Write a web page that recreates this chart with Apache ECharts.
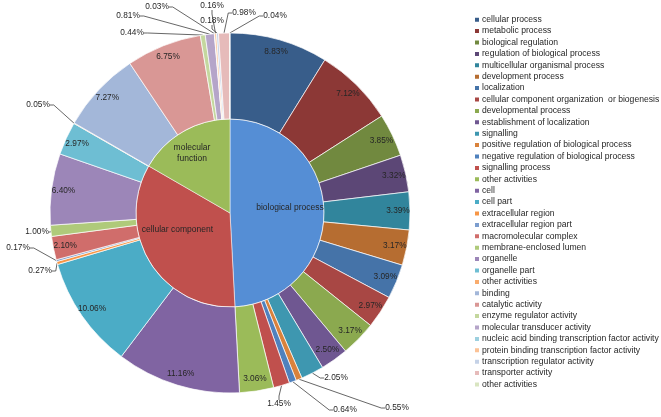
<!DOCTYPE html>
<html><head><meta charset="utf-8">
<script src="https://cdn.jsdelivr.net/npm/echarts@6/dist/echarts.min.js"></script>
<style>html,body{margin:0;padding:0;background:#fff}#c{width:661px;height:417px}</style>
</head><body><div id="c"></div>
<script>
// ---- data ----
const groupNames = ['biological process', 'cellular component', 'molecular function'];
const groupValues = [49.16, 34.18, 16.66];

const bioNames = ['cellular process', 'metabolic process', 'biological regulation', 'regulation of biological process',
  'multicellular organismal process', 'development process', 'localization',
  'cellular component organization  or biogenesis', 'developmental process', 'establishment of localization',
  'signalling', 'positive regulation of biological process', 'negative regulation of biological process',
  'signalling process', 'other activities'];
const bioValues = [8.83, 7.12, 3.85, 3.32, 3.39, 3.17, 3.09, 2.97, 3.17, 2.50, 2.05, 0.55, 0.64, 1.45, 3.06];

const ccNames = ['cell', 'cell part', 'extracellular region', 'extracellular region part', 'macromolecular complex',
  'membrane-enclosed lumen', 'organelle', 'organelle part', 'other activities '];
const ccValues = [11.16, 10.06, 0.27, 0.17, 2.10, 1.00, 6.40, 2.97, 0.05];

const mfNames = ['binding', 'catalytic activity', 'enzyme regulator activity', 'molecular transducer activity',
  'nucleic acid binding transcription factor activity', 'protein binding transcription factor activity',
  'transcription regulator activity', 'transporter activity', 'other activities  '];
const mfValues = [7.27, 6.75, 0.44, 0.81, 0.03, 0.16, 0.18, 0.98, 0.04];

// ---- styles ----
const groupColors = ['#558ED5', '#C0504D', '#9BBB59'];
const outerColors = [
  '#385D8A', '#8C3836', '#71893F', '#5C4776', '#31859C', '#B66D31',
  '#4573A8', '#A84744', '#8BA94F', '#6F5791', '#3E97B0', '#D9823C',
  '#4F81BD', '#C0504D', '#9BBB59', '#8064A2', '#4BACC6', '#F79646',
  '#7C9DCE', '#D06D6B', '#AFCA7A', '#9C86B8', '#6EBED3', '#F9AC6D',
  '#A3B7D9', '#D99795', '#C4D79E', '#B5A5C9', '#9DD0DF', '#FBC296',
  '#C5D2E7', '#E6BBBA', '#D9E5C1'];
// label placement (layout only): [outer item index, x, y]
const outsideLabels = [[10, 336, 378], [11, 397, 408], [12, 345, 410], [13, 279, 404],
  [17, 40, 271], [18, 18, 248], [20, 37, 232], [23, 38, 105],
  [26, 132, 33], [27, 128, 16], [28, 157, 7], [29, 212, 6], [30, 212, 21], [31, 244, 13], [32, 275, 16]];
const innerLabelShift = [[10, -4], [-10, -9], [-13, -17]];

const FONT = "'Liberation Sans', Arial, sans-serif";
const CENTER = [230, 213];

const outerNames = bioNames.concat(ccNames, mfNames);
const outerValues = bioValues.concat(ccValues, mfValues);
const outsideMap = {};
outsideLabels.forEach(o => { outsideMap[o[0]] = [o[1], o[2]]; });

const innerData = groupNames.map((n, i) => ({ name: n, value: groupValues[i], itemStyle: { color: groupColors[i] } }));
const outerData = outerNames.map((n, i) => ({ name: n, value: outerValues[i], itemStyle: { color: outerColors[i] } }));
const labelData = outerNames.map((n, i) => {
  const out = outsideMap[i] != null;
  return {
    name: n, value: outerValues[i],
    label: { position: out ? 'outside' : 'inside' },
    labelLine: { show: out }
  };
});

const chart = echarts.init(document.getElementById('c'), null, { renderer: 'canvas' });
chart.setOption({
  animation: false,
  backgroundColor: '#fff',
  legend: {
    orient: 'vertical', left: 473, top: 14, padding: 0,
    data: outerNames,
    itemWidth: 6, itemHeight: 6, itemGap: 0,
    icon: 'rect',
    selectedMode: false,
    textStyle: { fontFamily: FONT, fontSize: 8.6, color: '#262626', lineHeight: 11.4, padding: [0, 0, 0, -3] }
  },
  series: [
    {
      type: 'pie', name: 'inner', center: CENTER, radius: [0, 94], startAngle: 90,
      silent: true, avoidLabelOverlap: false,
      data: innerData.map((d, i) => Object.assign(d, i === 2 ? { label: { formatter: 'molecular\nfunction' } } : {})),
      itemStyle: { borderColor: '#fff', borderWidth: 0.5 },
      label: { position: 'inside', fontFamily: FONT, fontSize: 8.5, color: '#262626', lineHeight: 11 },
      labelLine: { show: false },
      labelLayout: p => ({ dx: innerLabelShift[p.dataIndex][0], dy: innerLabelShift[p.dataIndex][1] })
    },
    {
      type: 'pie', name: 'outer', center: CENTER, radius: [94, 180], startAngle: 90,
      silent: true, avoidLabelOverlap: false,
      data: outerData,
      itemStyle: { borderColor: '#fff', borderWidth: 0.7 },
      label: { show: false }, labelLine: { show: false }
    },
    {
      type: 'pie', name: 'labels', center: CENTER, radius: [150, 180], startAngle: 90,
      silent: true, avoidLabelOverlap: false,
      data: labelData,
      itemStyle: { color: 'rgba(0,0,0,0)' },
      label: {
        formatter: p => p.value.toFixed(2) + '%',
        fontFamily: FONT, fontSize: 8.3, color: '#262626'
      },
      labelLine: { length: 4, length2: 4, lineStyle: { color: '#404040', width: 0.8 } },
      labelLayout: p => {
        const pos = outsideMap[p.dataIndex];
        if (!pos) return {};
        return { x: pos[0], y: pos[1], align: 'center', verticalAlign: 'middle' };
      }
    }
  ]
});
</script></body></html>
